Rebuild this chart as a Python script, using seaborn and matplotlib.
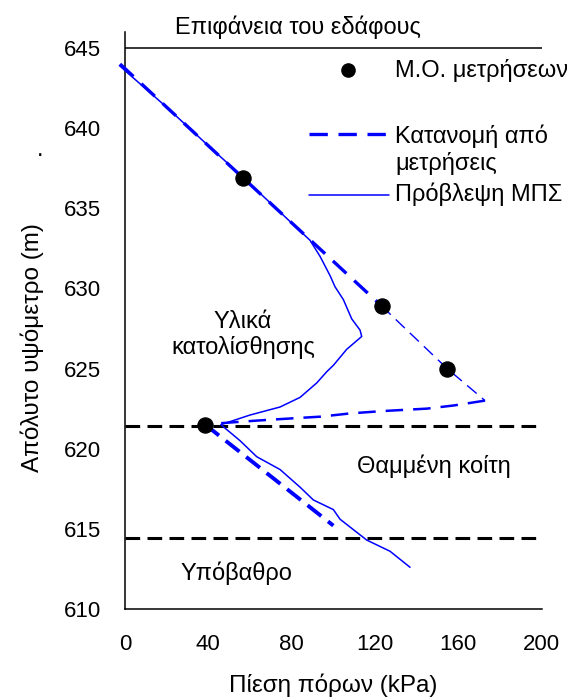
import matplotlib
matplotlib.use("Agg")
import matplotlib.pyplot as plt
import pandas as pd
import seaborn as sns
from matplotlib.lines import Line2D

# Mean of measurements: pore pressure (kPa) and elevation (m)
meas_p = [56.6, 123.2, 154.6, 38.5]
meas_z = [636.9, 628.9, 625.0, 621.5]

# Distribution derived from measurements, drawn in four pieces
dist_upper_p = [-2.4, 56.6, 123.2]
dist_upper_z = [644.0, 636.9, 628.9]
dist_peak_p = [123.2, 154.6, 172.8]
dist_peak_z = [628.9, 625.0, 623.0]
dist_back_p = [172.8, 158.0, 145.0, 124.0, 108.0, 94.0, 75.0, 63.0, 47.0, 38.5]
dist_back_z = [623.0, 622.7, 622.5, 622.35, 622.2, 622.0, 621.85, 621.75, 621.6, 621.5]
dist_lower_p = [38.5, 100.0]
dist_lower_z = [621.5, 615.2]

# Model prediction (ΜΠΣ)
pred_p = [-2.7, 20.0, 40.0, 54.4, 70.0, 88.8, 93.6, 98.4, 100.8, 104.8, 108.8,
          112.8, 113.6, 106.4, 100.0, 96.8, 92.0, 84.0, 74.4, 60.0, 46.0,
          55.2, 63.2, 74.4, 84.0, 90.4, 100.0, 103.2, 116.0, 127.2, 136.8]
pred_z = [643.9, 641.3, 638.9, 637.2, 635.3, 633.0, 632.0, 630.8, 630.1, 629.3, 628.1,
          627.4, 627.0, 626.2, 625.2, 624.8, 624.1, 623.2, 622.6, 622.1, 621.5,
          620.5, 619.5, 618.7, 617.6, 616.8, 616.2, 615.6, 614.3, 613.6, 612.6]

# Layer boundaries (m)
ground_surface = 645.0
layer_bounds = [621.4, 614.45]

x_ticks = [0, 40, 80, 120, 160, 200]
y_ticks = [610, 615, 620, 625, 630, 635, 640, 645]

sns.set_style("white")
plt.rcParams["font.family"] = ["Liberation Sans", "DejaVu Sans"]
plt.rcParams["text.color"] = "black"
plt.rcParams["axes.labelcolor"] = "black"

fs = 17
fs_tick = 16
fs_lab = 17.5
blue = "#0000FF"

fig = plt.figure(figsize=(5.67, 6.99), dpi=100)
ax = fig.add_axes([0.2205, 0.1288, 0.7349, 0.8255])

dash_m = (0, (5.5, 3.2))

def piece(p, z, lw, ls):
    df = pd.DataFrame({"p": p, "z": z})
    sns.lineplot(data=df, x="p", y="z", sort=False, estimator=None, ax=ax,
                 color=blue, lw=lw, linestyle=ls, clip_on=False, zorder=3)

# Pore pressure profiles
piece(pred_p, pred_z, 1.1, "-")
piece(dist_upper_p, dist_upper_z, 2.4, dash_m)
piece(dist_peak_p, dist_peak_z, 1.0, (0, (9, 5)))
piece(dist_back_p, dist_back_z, 1.8, (0, (7, 4)))
piece(dist_lower_p, dist_lower_z, 2.8, (0, (4.5, 2.2)))

sns.scatterplot(x=meas_p, y=meas_z, ax=ax, s=120, color="black",
                edgecolor="black", zorder=5, clip_on=False)

# Ground surface and layer boundaries
ax.axhline(ground_surface, color="black", lw=1.1, zorder=2)
for b in layer_bounds:
    ax.axhline(b, color="black", lw=2.2, linestyle=(0, (4.8, 2.4)), zorder=2)

ax.set_xlim(0, 200)
ax.set_ylim(610, 646)
ax.set_xticks(x_ticks)
ax.set_yticks(y_ticks)
for s in ["top", "right"]:
    ax.spines[s].set_visible(False)
for s in ["left", "bottom"]:
    ax.spines[s].set_color("black")
    ax.spines[s].set_linewidth(1.1)
ax.tick_params(direction="in", length=6, width=1.1, colors="black",
               labelsize=fs_tick, pad=17)
ax.tick_params(axis="x", pad=18)

ax.set_xlabel("Πίεση πόρων (kPa)", fontsize=fs_lab, labelpad=13, color="black")
ax.set_ylabel("")
fig.text(32 / 567, 1 - 348 / 699, "Απόλυτο υψόμετρο (m)", rotation=90,
         ha="center", va="center", fontsize=fs_lab, color="black")
fig.text(40 / 567, 1 - 150 / 699, ".", ha="center", va="center", fontsize=fs,
         color="black")

# Region labels
ax.text(0.415, 1.0087, "Επιφάνεια του εδάφους", transform=ax.transAxes,
        ha="center", va="center", fontsize=fs, color="black")
ax.text(56.6, 627.1, "Υλικά\nκατολίσθησης", ha="center", va="center",
        fontsize=fs, linespacing=1.2, color="black")
ax.text(148.3, 618.9, "Θαμμένη κοίτη", ha="center", va="center", fontsize=fs,
        color="black")
ax.text(53.3, 612.2, "Υπόβαθρο", ha="center", va="center", fontsize=fs,
        color="black")

# Legend
tr = ax.transAxes
ax.add_line(Line2D([0.536], [0.934], marker="o", ms=9.5, color="black",
                   ls="none", transform=tr, clip_on=False))
ax.text(0.648, 0.934, "Μ.Ο. μετρήσεων", transform=tr, ha="left", va="center",
        fontsize=fs, color="black")
ax.add_line(Line2D([0.442, 0.634], [0.823, 0.823], color=blue, lw=2.4,
                   linestyle=dash_m, transform=tr, clip_on=False))
ax.text(0.648, 0.796, "Κατανομή από\nμετρήσεις", transform=tr, ha="left",
        va="center", fontsize=fs, linespacing=1.25, color="black")
ax.add_line(Line2D([0.442, 0.634], [0.718, 0.718], color=blue, lw=1.1,
                   transform=tr, clip_on=False))
ax.text(0.648, 0.718, "Πρόβλεψη ΜΠΣ", transform=tr, ha="left", va="center",
        fontsize=fs, color="black")

fig.savefig("out.png", dpi=100)
